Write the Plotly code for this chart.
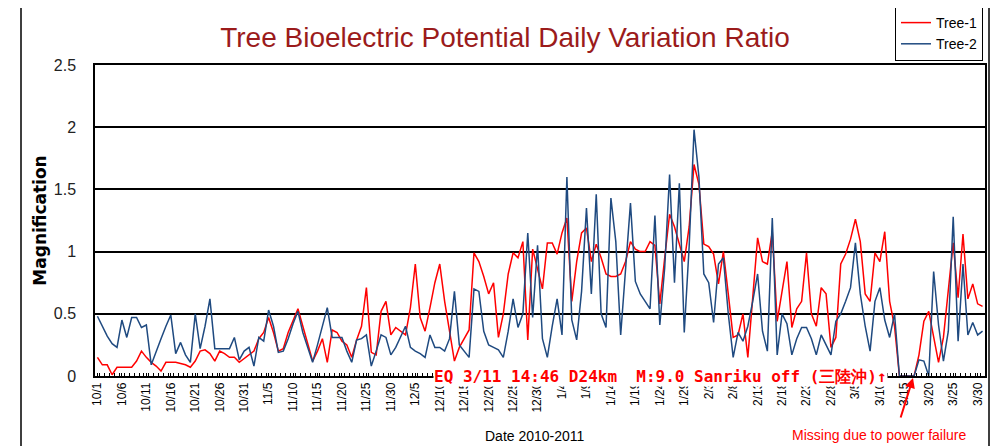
import pandas as pd
import plotly.graph_objects as go

START_DATE = "2010-10-01"
N_DAYS = 182

TREE1 = [
    0.15, 0.09, 0.09, 0.01, 0.07, 0.07, 0.07, 0.07, 0.12, 0.20,
    0.15, 0.11, 0.08, 0.04, 0.11, 0.11, 0.11, 0.10, 0.09, 0.07,
    0.12, 0.20, 0.21, 0.18, 0.12, 0.20, 0.18, 0.15, 0.15, 0.11,
    0.14, 0.17, 0.20, 0.30, 0.35, 0.47, 0.35, 0.20, 0.22, 0.35,
    0.45, 0.54, 0.40, 0.25, 0.12, 0.20, 0.30, 0.11, 0.37, 0.35,
    0.28, 0.25, 0.15, 0.29, 0.40, 0.71, 0.19, 0.17, 0.52, 0.60,
    0.33, 0.39, 0.36, 0.33, 0.55, 0.90, 0.47, 0.36, 0.55, 0.75,
    0.90, 0.60, 0.36, 0.12, 0.23, 0.30, 0.37, 0.99, 0.92, 0.80,
    0.66, 0.75, 0.31, 0.50, 0.82, 0.99, 0.95, 1.08, 0.29, 1.02,
    0.87, 0.70, 1.07, 1.07, 0.98, 1.15, 1.27, 0.60, 0.92, 1.15,
    1.19, 0.92, 1.06, 0.95, 0.82, 0.80, 0.80, 0.82, 0.92, 1.08,
    1.02, 1.00, 1.00, 1.08, 1.05, 0.58, 0.95, 1.30, 1.20, 1.05,
    0.92, 1.20, 1.70, 1.54, 1.06, 1.04, 0.98, 0.74, 1.00, 0.66,
    0.31, 0.33, 0.50, 0.15, 0.60, 1.11, 0.92, 0.90, 1.16, 0.44,
    0.68, 0.92, 0.39, 0.54, 0.60, 0.99, 0.50, 0.40, 0.71, 0.66,
    0.23, 0.31, 0.90, 0.98, 1.10, 1.26, 1.08, 0.66, 0.60, 0.99,
    0.92, 1.16, 0.60, 0.40, 0.00, 0.00, 0.00, 0.00, 0.17, 0.44,
    0.52, 0.31, 0.11, 0.31, 0.68, 1.07, 0.63, 1.14, 0.62, 0.74,
    0.58, 0.56,
]

TREE2 = [
    0.48, 0.40, 0.32, 0.26, 0.23, 0.45, 0.31, 0.47, 0.47, 0.39,
    0.41, 0.09, 0.20, 0.30, 0.40, 0.49, 0.18, 0.27, 0.17, 0.11,
    0.50, 0.22, 0.40, 0.62, 0.22, 0.22, 0.22, 0.22, 0.31, 0.13,
    0.20, 0.23, 0.08, 0.31, 0.28, 0.53, 0.40, 0.19, 0.20, 0.30,
    0.42, 0.52, 0.35, 0.22, 0.11, 0.25, 0.40, 0.55, 0.31, 0.31,
    0.31, 0.20, 0.11, 0.29, 0.30, 0.33, 0.08, 0.20, 0.33, 0.31,
    0.17, 0.23, 0.32, 0.40, 0.23, 0.20, 0.18, 0.15, 0.33, 0.23,
    0.23, 0.20, 0.30, 0.68, 0.25, 0.20, 0.15, 0.70, 0.68, 0.36,
    0.25, 0.23, 0.21, 0.15, 0.36, 0.62, 0.39, 0.50, 1.15, 0.47,
    1.05, 0.30, 0.15, 0.40, 0.62, 0.33, 1.60, 0.45, 0.29, 0.68,
    1.35, 0.66, 1.46, 0.50, 0.39, 1.43, 1.08, 0.33, 0.90, 1.39,
    0.76, 0.66, 0.60, 0.54, 1.29, 0.41, 0.87, 1.62, 0.75, 1.55,
    0.35, 1.04, 1.98, 1.60, 0.82, 0.75, 0.43, 0.90, 0.95, 0.50,
    0.15, 0.35, 0.28, 0.40, 0.60, 0.82, 0.36, 0.20, 1.27, 0.17,
    0.50, 0.42, 0.17, 0.30, 0.39, 0.39, 0.30, 0.17, 0.33, 0.25,
    0.17, 0.44, 0.50, 0.60, 0.71, 1.07, 0.66, 0.40, 0.20, 0.60,
    0.71, 0.45, 0.31, 0.50, 0.00, 0.00, 0.00, 0.00, 0.13, 0.12,
    0.00, 0.84, 0.41, 0.12, 0.36, 1.28, 0.28, 0.90, 0.33, 0.43,
    0.33, 0.36,
]

TICK_LABELS = [
    "10/1", "10/6", "10/11", "10/16", "10/21", "10/26", "10/31",
    "11/5", "11/10", "11/15", "11/20", "11/25", "11/30",
    "12/5", "12/10", "12/15", "12/20", "12/25", "12/30",
    "1/4", "1/9", "1/14", "1/19", "1/24", "1/29",
    "2/3", "2/8", "2/13", "2/18", "2/23", "2/28",
    "3/5", "3/10", "3/15", "3/20", "3/25", "3/30",
]

SERIES_NAMES = ["Tree-1", "Tree-2"]
TITLE = "Tree Bioelectric Potential Daily Variation Ratio"
Y_TITLE = "Magnification"
X_TITLE = "Date 2010-2011"
EQ_NOTE = "EQ 3/11 14:46 D24km  M:9.0 Sanriku off (三陸沖)↑"
MISSING_NOTE = "Missing due to power failure"

dates = pd.date_range(START_DATE, periods=N_DAYS, freq="D")
tick_vals = list(dates[::5][: len(TICK_LABELS)])

RED = "#FF0000"
BLUE = "#1F4A80"

fig = go.Figure()
fig.add_trace(go.Scatter(x=dates, y=TREE1, mode="lines", name=SERIES_NAMES[0],
                         line=dict(color=RED, width=1.5)))
fig.add_trace(go.Scatter(x=dates, y=TREE2, mode="lines", name=SERIES_NAMES[1],
                         line=dict(color=BLUE, width=1.5)))

# page offset (body margin) of the rendered html
OFF = 8
W, H = 1002 - OFF, 446 - OFF
# plot area in screenshot pixels
SX0, SX1, SY0, SY1 = 95, 985, 65, 376
L, R, T, B = SX0 - OFF, W - (SX1 - OFF), SY0 - OFF, H - (SY1 - OFF)
pw, ph = W - L - R, H - T - B


def px(x):
    return (x - OFF - L) / pw


def py(y):
    return (H - B - (y - OFF)) / ph


fig.update_layout(
    width=W, height=H,
    margin=dict(l=L, r=R, t=T, b=B, autoexpand=False),
    paper_bgcolor="white", plot_bgcolor="white",
    font=dict(family="Liberation Sans, Arial, sans-serif", color="black"),
    title=dict(text=TITLE, x=px(505), xanchor="center", xref="paper",
               y=1 - (37 - OFF) / H, yanchor="middle",
               font=dict(size=28, color="#9B1B1B", family="Liberation Sans, Arial, sans-serif")),
    showlegend=True,
    legend=dict(x=px(895), y=py(6), xanchor="left", yanchor="top",
                bgcolor="white", bordercolor="black", borderwidth=1,
                font=dict(size=14, color="black"), itemwidth=30,
                tracegroupgap=0),
    xaxis=dict(
        range=[dates[0] - pd.Timedelta(hours=12), dates[-1] + pd.Timedelta(hours=12)],
        tickmode="array", tickvals=tick_vals, ticktext=TICK_LABELS,
        tickangle=-90, tickfont=dict(size=12, color="black"),
        ticks="inside", ticklen=3, tickcolor="black",
        minor=dict(ticks="inside", ticklen=3, tickcolor="black",
                   dtick=86400000, tick0="2010-09-30 12:00", showgrid=False),
        showgrid=False, showline=True, linecolor="black", linewidth=1.5, mirror=True,
        zeroline=False, automargin=False,
    ),
    yaxis=dict(
        range=[0, 2.5], dtick=0.5, tickformat="~g",
        tickfont=dict(size=16, color="#222"),
        showgrid=True, gridcolor="black", gridwidth=1.5,
        showline=True, linecolor="black", linewidth=1.5, mirror=True,
        zeroline=False, ticks="", ticklabelstandoff=14, automargin=False,
        title=dict(text="<b>" + Y_TITLE + "</b>",
                   font=dict(size=17, color="black", family="DejaVu Sans, Arial, sans-serif"),
                   standoff=3),
    ),
)

# outer chart frame
fig.add_shape(type="rect", xref="paper", yref="paper",
              x0=px(21), x1=px(989), y0=py(470), y1=py(6),
              line=dict(color="black", width=1.5), fillcolor="rgba(0,0,0,0)", layer="below")

fig.add_annotation(text="<b>" + EQ_NOTE + "</b>", xref="paper", yref="paper",
                   x=px(433), y=0, xanchor="left", yanchor="middle", showarrow=False,
                   bgcolor="white", borderpad=0,
                   font=dict(size=16, color=RED, family="DejaVu Sans Mono, monospace"))

fig.add_annotation(text=X_TITLE, xref="paper", yref="paper",
                   x=px(535), y=py(436), xanchor="center", yanchor="middle", showarrow=False,
                   font=dict(size=14, color="black"))

fig.add_annotation(text=MISSING_NOTE, xref="paper", yref="paper",
                   x=px(879), y=py(435), xanchor="center", yanchor="middle", showarrow=False,
                   font=dict(size=14, color=RED))

fig.add_annotation(text=" ", xref="paper", yref="paper",
                   x=px(913), y=py(378), ax=-15, ay=48, showarrow=True,
                   arrowhead=2, arrowsize=1, arrowwidth=2, arrowcolor=RED)

fig.write_html("out.html")
